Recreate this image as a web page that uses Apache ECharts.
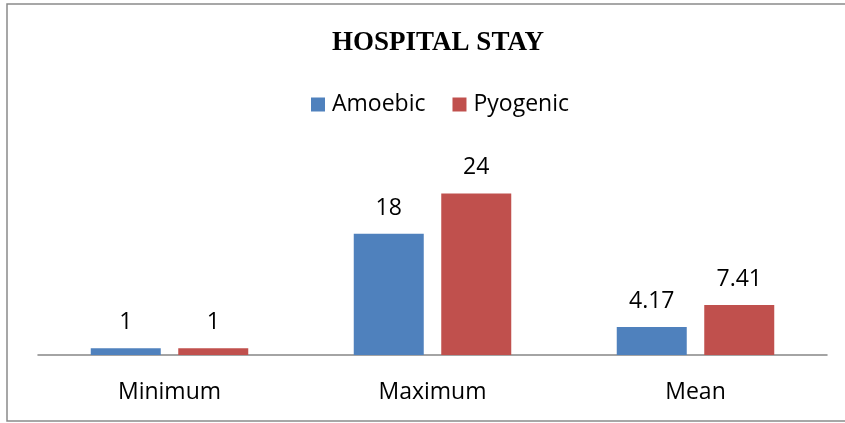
<!DOCTYPE html>
<html>
<head>
<meta charset="utf-8">
<script src="https://cdn.jsdelivr.net/npm/echarts@6/dist/echarts.min.js"></script>
<style>
  html, body { margin: 0; padding: 0; background: #fff; }
  #chart { width: 845px; height: 423px; }
</style>
</head>
<body>
<div id="chart"></div>
<script>
// Hospital stay (days) by abscess type
const categories = ['Minimum', 'Maximum', 'Mean'];
const amoebic = [1, 18, 4.17];
const pyogenic = [1, 24, 7.41];
const seriesNames = ['Amoebic', 'Pyogenic'];

const chart = echarts.init(document.getElementById('chart'));
const textFont = '"Open Sans", "Noto Sans", sans-serif';

chart.setOption({
  animation: false,
  backgroundColor: '#ffffff',
  title: {
    text: 'HOSPITAL STAY',
    left: 433,
    textAlign: 'center',
    top: 25,
    textStyle: {
      fontFamily: '"Liberation Serif", "Times New Roman", serif',
      fontWeight: 'bold',
      fontSize: 27,
      color: '#000'
    }
  },
  legend: {
    top: 88,
    left: 306,
    itemWidth: 14,
    itemHeight: 14,
    itemGap: 27,
    icon: 'rect',
    textStyle: { fontFamily: textFont, fontSize: 23, color: '#000', padding: [0, 0, 0, 2] },
    data: seriesNames
  },
  grid: { left: 38, right: 18, top: 153, bottom: 68 },
  xAxis: {
    type: 'category',
    data: categories,
    axisTick: { show: false },
    axisLine: { lineStyle: { color: '#868686', width: 1.5 } },
    axisLabel: { margin: 26, fontFamily: textFont, fontSize: 23, color: '#000' }
  },
  yAxis: {
    type: 'value',
    min: 0,
    max: 30,
    show: false,
    splitLine: { show: false }
  },
  graphic: [{
    type: 'rect',
    shape: { x: 7, y: 4, width: 860, height: 417 },
    style: { fill: 'none', stroke: '#8a8a8a', lineWidth: 1.5 },
    silent: true
  }],
  series: [
    {
      name: seriesNames[0],
      type: 'bar',
      data: amoebic,
      barWidth: 70,
      barGap: '25%',
      itemStyle: { color: '#4F81BD' },
      label: { show: true, position: 'top', distance: 14, fontFamily: textFont, fontSize: 23, color: '#000' }
    },
    {
      name: seriesNames[1],
      type: 'bar',
      data: pyogenic,
      barWidth: 70,
      barGap: '25%',
      itemStyle: { color: '#C0504D' },
      label: { show: true, position: 'top', distance: 14, fontFamily: textFont, fontSize: 23, color: '#000' }
    }
  ]
});
</script>
</body>
</html>
